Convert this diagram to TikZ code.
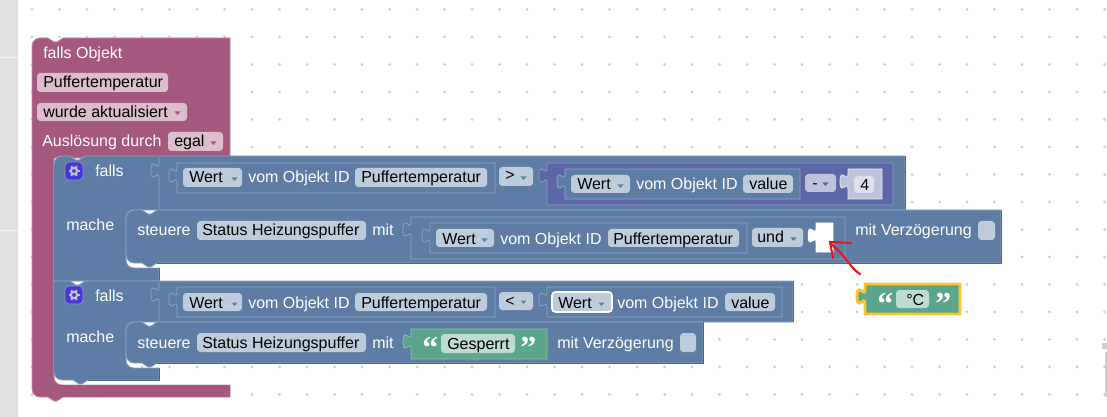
\documentclass[tikz,border=0pt]{standalone}
\usepackage{fontspec}
\setmainfont{Liberation Sans}
\newfontfamily\quotefont{Liberation Serif}
\definecolor{bandgrey}{HTML}{E0E0E0}
\definecolor{dotgrey}{HTML}{CFCFCF}
\definecolor{plumfill}{HTML}{A4587E}
\definecolor{plumlight}{HTML}{C08CA6}
\definecolor{plumfield}{HTML}{DBBDCC}
\definecolor{bluefill}{HTML}{5E7DA5}
\definecolor{bluelight}{HTML}{8CA6C0}
\definecolor{bluedark}{HTML}{496684}
\definecolor{bluefield}{HTML}{BDCCDB}
\definecolor{violetfill}{HTML}{5B67A5}
\definecolor{violetlight}{HTML}{8C95C0}
\definecolor{violetfield}{HTML}{BDC2DB}
\definecolor{numfield}{HTML}{DEE0ED}
\definecolor{greenfill}{HTML}{5BA58C}
\definecolor{greenlight}{HTML}{8CC0AE}
\definecolor{greenfield}{HTML}{BDDBD1}
\definecolor{selyellow}{HTML}{FBC531}
\definecolor{gearbg}{HTML}{4A36D8}
\definecolor{arrowred}{HTML}{E8141E}
\tikzset{
    lbl/.style = {text=white, inner sep=0, anchor=base west, font=\fontsize{12pt}{14pt}\selectfont},
    fldtxt/.style = {lbl, text=black},
    qmark/.style = {text=white, inner sep=0, anchor=base west, font=\quotefont\bfseries\fontsize{24pt}{26pt}\selectfont},
    fld/.style = {fill=#1, rounded corners=2.5pt},
    inbox/.style = {fill=bluefill, draw=bluelight, line width=0.6pt},
    bluebody/.style = {fill=bluefill, draw=bluelight, line width=0.6pt},
}
% block edge notches, going right and going left
\def\notchin{-- ++(6,4) -- ++(3,0) -- ++(6,-4)}
\def\notchback{-- ++(-6,4) -- ++(-3,0) -- ++(-6,-4)}
% box with a puzzle tab on its left side: style, x, y, w, h
\newcommand{\tabbox}[5]{
    \begin{scope}[shift={(#2,#3)}]
        \draw[#1] (0,0) -- (0,5) .. controls (0,15) and (-8,-3) .. (-8,12.5) .. controls (-8,28) and (0,10) .. (0,20) -- (0,#5) -- (#4,#5) -- (#4,0) -- cycle;
    \end{scope}
}
% empty socket line on the parent block: x, y, h
\newcommand{\socketline}[3]{
    \begin{scope}[shift={(#1,#2)}]
        \draw[bluelight, line width=0.6pt] (0,0) -- (0,5) .. controls (0,15) and (-8,-3) .. (-8,12.5) .. controls (-8,28) and (0,10) .. (0,20) -- (0,#3);
    \end{scope}
}
\newcommand{\ddtri}[3]{\fill[#3] (#1,#2) ++(0.5,0.5) -- ++(6,0) -- ++(-3,3.5) -- cycle;}
\newcommand{\gearicon}[2]{
    \begin{scope}[shift={(#1,#2)}]
        \draw[fill=gearbg, draw=violetlight, line width=0.6pt, rounded corners=3pt] (-9,-9) rectangle (9,9);
        \foreach \a in {0,60,...,300}
            \draw[violetfield, line width=1.5pt] (\a:2.5) -- (\a:5.5);
        \draw[violetfield, line width=1.6pt] (0,0) circle (3.2);
    \end{scope}
}
\begin{document}
\begin{tikzpicture}[x=0.75pt, y=-0.75pt]
    \useasboundingbox (0,0) rectangle (1107,417);
    \fill[white] (0,0) rectangle (1107,417);

    % page around the workspace
    \fill[bandgrey] (0,0) rectangle (18,417);
    \draw[white!60!bandgrey, line width=0.6pt] (0,57) -- (18,57);
    \draw[white!60!bandgrey, line width=0.6pt] (0,230) -- (18,230);
    \fill[dotgrey] (1102,343) rectangle (1107,349);
    \fill[dotgrey] (1105,352) rectangle (1107,397);

    % workspace dots
    \foreach \i in {0,...,39}
        \foreach \j in {0,...,14}
            \fill[dotgrey] (32+27.5*\i,9.4+27.5*\j) circle (1.6);

    % trigger block
    \draw[fill=plumfill, draw=plumlight, line width=0.6pt] (32,48) [rounded corners=6pt] -- (32,38) [sharp corners] -- (48,38) \notchin -- (230,38) -- (230,158) -- (54,158) [rounded corners=6pt] -- (54,385) [sharp corners] -- (230,385) -- (230,397) -- (63,397) \notchback [rounded corners=6pt] -- (32,397) -- (32,48);
    \fill[plumfill] (54,385.4) rectangle (230,396.6);
    \node (objhead) [lbl] at (43,59) {falls Objekt};
    \fill[fld=plumfield] (37,73) rectangle (168,92);
    \node (objname) [fldtxt] at (43,88) {Puffertemperatur};
    \fill[fld=plumfield] (37,103) rectangle (187,121);
    \node (objwhen) [fldtxt] at (43,118) {wurde aktualisiert};
    \ddtri{174}{111}{plumfill}
    \node (objby) [lbl] at (42,147) {Auslösung durch};
    \fill[fld=plumfield] (168,132) rectangle (223,151);
    \node (objany) [fldtxt] at (174,147) {egal};
    \ddtri{210}{141}{plumfill}

    % first falls block
    \draw[bluebody] (54,166) [rounded corners=6pt] -- (54,156) [sharp corners] -- (70,156) \notchin -- (905,156) -- (905,210) -- (134,210) [rounded corners=6pt] -- (126,210) -- (126,268) [sharp corners] -- (159,268) -- (159,281) -- (54,281) -- (54,166);
    \draw[bluedark, line width=0.6pt] (905,156) -- (905,210);
    \draw[bluedark, line width=0.6pt] (159,268) -- (159,281);
    \draw[bluefill, line width=0.6pt] (54,166) -- (54,281);
    \gearicon{74}{171}
    \node (falls1) [lbl] at (95,177) {falls};
    \node (mache1) [lbl] at (66,230) {mache};
    \socketline{159}{158}{52}

    \tabbox{inbox}{177}{163}{318}{30}
    \fill[fld=bluefield] (183,168) rectangle (242,187);
    \node (wert1) [fldtxt] at (189,183) {Wert};
    \ddtri{231}{177}{bluefill}
    \node (vom1) [lbl] at (248,183) {vom Objekt ID};
    \fill[fld=bluefield] (355,168) rectangle (487,187);
    \node (puffer1) [fldtxt] at (361,183) {Puffertemperatur};
    \fill[fld=bluefield] (499,167) rectangle (533,186);
    \node (gt1) [fldtxt] at (505,181) {>};
    \ddtri{520}{176}{bluefill}

    \tabbox{fill=violetfill, draw=violetlight, line width=0.6pt}{547}{163}{346}{42}
    \tabbox{inbox}{565}{169}{235}{30}
    \fill[fld=bluefield] (571,175) rectangle (630,193);
    \node (wert2) [fldtxt] at (577,190) {Wert};
    \ddtri{617}{184}{bluefill}
    \node (vom2) [lbl] at (636,190) {vom Objekt ID};
    \fill[fld=bluefield] (743,175) rectangle (793,193);
    \node (value1) [fldtxt] at (749,190) {value};
    \fill[fld=violetfield] (805,174) rectangle (836,192);
    \node (minus1) [fldtxt] at (812,189) {-};
    \ddtri{822}{182}{violetfill}
    \tabbox{fill=violetfield, draw=white!60!violetfield, line width=0.6pt}{848}{169}{34}{30}
    \fill[fld=numfield] (854,176) rectangle (874,193);
    \node (num4) [fldtxt] at (860,191) {4};

    % first steuere block
    \draw[bluebody] (126,220) [rounded corners=6pt] -- (126,210) [sharp corners] -- (142,210) \notchin -- (1001,210) -- (1001,263) -- (157,263) \notchback [rounded corners=6pt] -- (126,263) -- (126,220);
    \draw[bluedark, line width=0.6pt] (1001,210) -- (1001,263) -- (157,263);
    \node (steuere1) [lbl] at (137,236) {steuere};
    \fill[fld=bluefield] (197,221) rectangle (366,240);
    \node (status1) [fldtxt] at (202,236) {Status Heizungspuffer};
    \node (mit1) [lbl] at (372,236) {mit};
    \tabbox{inbox}{411}{217}{434}{42}
    \tabbox{inbox}{430}{223}{317}{30}
    \fill[fld=bluefield] (436,229) rectangle (494,247);
    \node (wert3) [fldtxt] at (442,244) {Wert};
    \ddtri{481}{238}{bluefill}
    \node (vom3) [lbl] at (500,244) {vom Objekt ID};
    \fill[fld=bluefield] (608,229) rectangle (739,247);
    \node (puffer2) [fldtxt] at (613,244) {Puffertemperatur};
    \fill[fld=bluefield] (752,228) rectangle (803,247);
    \node (und1) [fldtxt] at (757,243) {und};
    \ddtri{790}{237}{bluefill}
    \tabbox{fill=white, draw=white}{816}{223}{17}{29}
    \node (delay1) [lbl] at (855,236) {mit Verzögerung};
    \fill[fld=bluefield] (978,221) rectangle (995,240);

    % second falls block
    \draw[bluebody] (54,291) -- (54,281) -- (70,281) \notchin -- (793,281) -- (793,322) -- (134,322) [rounded corners=6pt] -- (126,322) -- (126,368) [sharp corners] -- (159,368) -- (159,380) -- (88,380) \notchback [rounded corners=6pt] -- (54,380) -- (54,291);
    \draw[bluedark, line width=0.6pt] (793,281) -- (793,322);
    \draw[bluedark, line width=0.6pt] (159,368) -- (159,380) -- (88,380);
    \draw[bluefill, line width=0.6pt] (54,282) -- (54,372);
    \gearicon{74}{295}
    \node (falls2) [lbl] at (95,301) {falls};
    \node (mache2) [lbl] at (66,342) {mache};
    \socketline{159}{282}{40}

    \tabbox{inbox}{177}{287}{318}{30}
    \fill[fld=bluefield] (183,293) rectangle (242,311);
    \node (wert4) [fldtxt] at (189,308) {Wert};
    \ddtri{231}{302}{bluefill}
    \node (vom4) [lbl] at (248,308) {vom Objekt ID};
    \fill[fld=bluefield] (355,293) rectangle (487,311);
    \node (puffer3) [fldtxt] at (361,308) {Puffertemperatur};
    \fill[fld=bluefield] (499,292) rectangle (533,310);
    \node (lt1) [fldtxt] at (505,306) {<};
    \ddtri{520}{300}{bluefill}
    \tabbox{inbox}{547}{287}{235}{30}
    \draw[fld=bluefield, draw=white, line width=1.2pt] (552,292) rectangle (612,312);
    \node (wert5) [fldtxt] at (558,308) {Wert};
    \ddtri{598}{302}{bluefill}
    \node (vom5) [lbl] at (617,308) {vom Objekt ID};
    \fill[fld=bluefield] (725,293) rectangle (775,311);
    \node (value2) [fldtxt] at (731,308) {value};

    % second steuere block
    \draw[bluebody] (126,332) [rounded corners=6pt] -- (126,322) [sharp corners] -- (142,322) \notchin -- (703,322) -- (703,363) -- (157,363) \notchback [rounded corners=6pt] -- (126,363) -- (126,332);
    \draw[bluedark, line width=0.6pt] (703,322) -- (703,363) -- (157,363);
    \node (steuere2) [lbl] at (137,348) {steuere};
    \fill[fld=bluefield] (197,333) rectangle (366,352);
    \node (status2) [fldtxt] at (202,348) {Status Heizungspuffer};
    \node (mit2) [lbl] at (372,348) {mit};
    \tabbox{fill=greenfill, draw=greenlight, line width=0.6pt}{411}{329}{136}{30}
    \node (open1) [qmark] at (422,358) {“};
    \fill[fld=greenfield] (441,334) rectangle (515,353);
    \node (gesperrt) [fldtxt] at (447,349) {Gesperrt};
    \node (close1) [qmark] at (520,358) {”};
    \node (delay2) [lbl] at (557,348) {mit Verzögerung};
    \fill[fld=bluefield] (680,333) rectangle (696,352);

    % loose text block
    \tabbox{fill=greenfill, draw=selyellow, line width=2.2pt}{865}{284}{95}{30}
    \node (open2) [qmark] at (877,314) {“};
    \fill[fld=greenfield] (896,290) rectangle (929,308);
    \node (celsius) [fldtxt] at (906,305) {°C};
    \node (close2) [qmark] at (935,314) {”};

    % hand drawn mark
    \draw[arrowred, line width=1.6pt, line cap=round, line join=round] (860,274) .. controls (850,268) and (848,258) .. (830,243);
    \draw[arrowred, line width=1.5pt, line cap=round] (851,243) -- (830,242) -- (833,258);
\end{tikzpicture}
\end{document}
